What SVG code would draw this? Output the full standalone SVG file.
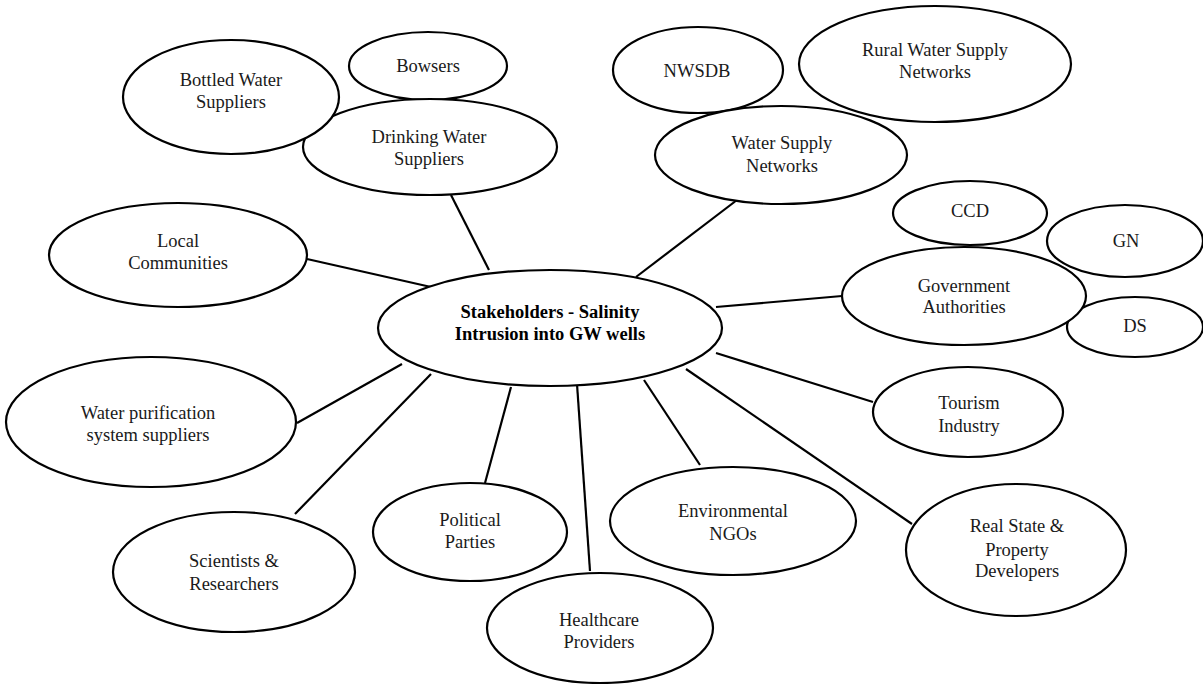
<svg xmlns="http://www.w3.org/2000/svg" width="1203" height="684" viewBox="0 0 1203 684">
<style>
.n ellipse{fill:#fff;stroke:#000;stroke-width:2.2}
text{font-family:"Liberation Serif","Times New Roman",serif;font-size:18.5px;fill:#1a1a1a;text-anchor:middle}
.b{font-weight:bold;fill:#000}
#connectors line{stroke:#000;stroke-width:2.2}
</style>
<rect width="1203" height="684" fill="#fff"/>
<g id="connectors">
<line x1="451" y1="195" x2="489" y2="270"/>
<line x1="737" y1="200" x2="636" y2="277"/>
<line x1="307" y1="259" x2="431" y2="287"/>
<line x1="842" y1="296" x2="716" y2="307"/>
<line x1="873" y1="402" x2="716" y2="353"/>
<line x1="912" y1="524" x2="686" y2="369"/>
<line x1="700" y1="465" x2="644" y2="380"/>
<line x1="590" y1="571" x2="577" y2="384"/>
<line x1="485" y1="483" x2="511" y2="387"/>
<line x1="295" y1="514" x2="431" y2="374"/>
<line x1="297" y1="423" x2="402" y2="364"/>
</g>
<g id="bowsers" class="n"><ellipse cx="428" cy="66" rx="79" ry="34"/><text x="428" y="72">Bowsers</text></g>
<g id="drinking" class="n"><ellipse cx="430" cy="147" rx="127" ry="48"/><text x="429" y="143">Drinking Water</text><text x="429" y="165">Suppliers</text></g>
<g id="bottled" class="n"><ellipse cx="231" cy="97" rx="108" ry="57"/><text x="231" y="86">Bottled Water</text><text x="231" y="108">Suppliers</text></g>
<g id="nwsdb" class="n"><ellipse cx="698" cy="70" rx="85" ry="43"/><text x="697" y="77">NWSDB</text></g>
<g id="rural" class="n"><ellipse cx="935" cy="64" rx="136" ry="58"/><text x="935" y="56">Rural Water Supply</text><text x="935" y="78">Networks</text></g>
<g id="watersupply" class="n"><ellipse cx="781" cy="155" rx="126" ry="49"/><text x="782" y="149">Water Supply</text><text x="782" y="172">Networks</text></g>
<g id="ccd" class="n"><ellipse cx="970" cy="213" rx="77" ry="32"/><text x="970" y="217">CCD</text></g>
<g id="gn" class="n"><ellipse cx="1125" cy="241" rx="78" ry="36"/><text x="1126" y="247">GN</text></g>
<g id="ds" class="n"><ellipse cx="1135" cy="327" rx="68" ry="30"/><text x="1135" y="332">DS</text></g>
<g id="government" class="n"><ellipse cx="964" cy="296" rx="122" ry="49"/><text x="964" y="292">Government</text><text x="964" y="313">Authorities</text></g>
<g id="local" class="n"><ellipse cx="178" cy="255" rx="129" ry="52"/><text x="178" y="247">Local</text><text x="178" y="269">Communities</text></g>
<g id="center" class="n"><ellipse cx="550" cy="328" rx="172" ry="58"/><text class="b" x="550" y="318">Stakeholders - Salinity</text><text class="b" x="550" y="340">Intrusion into GW wells</text></g>
<g id="purification" class="n"><ellipse cx="151" cy="422" rx="145" ry="65"/><text x="148" y="419">Water purification</text><text x="148" y="441">system suppliers</text></g>
<g id="scientists" class="n"><ellipse cx="234" cy="572" rx="121" ry="60"/><text x="234" y="567">Scientists &amp;</text><text x="234" y="590">Researchers</text></g>
<g id="political" class="n"><ellipse cx="470" cy="532" rx="97" ry="49"/><text x="470" y="526">Political</text><text x="470" y="548">Parties</text></g>
<g id="healthcare" class="n"><ellipse cx="600" cy="628" rx="113" ry="55"/><text x="599" y="626">Healthcare</text><text x="599" y="648">Providers</text></g>
<g id="ngos" class="n"><ellipse cx="733" cy="521" rx="123" ry="54"/><text x="733" y="517">Environmental</text><text x="733" y="540">NGOs</text></g>
<g id="tourism" class="n"><ellipse cx="968" cy="412" rx="95" ry="45"/><text x="969" y="409">Tourism</text><text x="969" y="432">Industry</text></g>
<g id="realstate" class="n"><ellipse cx="1016" cy="550" rx="110" ry="66"/><text x="1017" y="532">Real State &amp;</text><text x="1017" y="556">Property</text><text x="1017" y="577">Developers</text></g>
</svg>
